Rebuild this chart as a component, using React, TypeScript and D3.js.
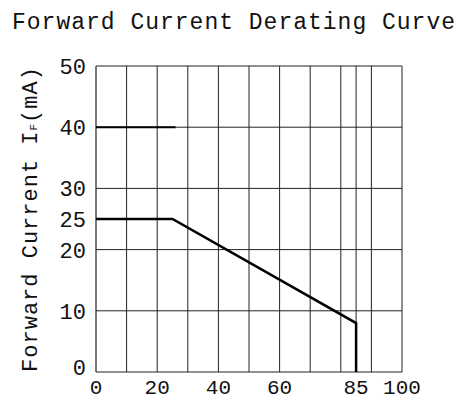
import React from "react";
import * as d3 from "d3";

const xGrid = [10, 20, 30, 40, 50, 60, 70, 80, 85, 90, 100];
const yGrid = [10, 20, 30, 40, 50];
const xTickLabels = [0, 20, 40, 60, 85, 100];
const yTickLabels = [0, 10, 20, 25, 30, 40, 50];
const curveX = [0, 25, 85, 85];
const curveY = [25, 25, 8, 0];
const peakX = [0, 26];
const peakY = [40, 40];

const W = 459;
const H = 399;
const FONT = "'Liberation Mono', 'DejaVu Sans Mono', monospace";

export default function App() {
  const x = d3.scaleLinear().domain([0, 100]).range([96, 402]);
  const y = d3.scaleLinear().domain([0, 50]).range([372, 66]);
  const line = d3
    .line<number>()
    .x((_, i) => x(curveX[i]))
    .y((d) => y(d));
  const peakLine = d3
    .line<number>()
    .x((_, i) => x(peakX[i]))
    .y((d) => y(d));

  return (
    <svg
      width={W}
      height={H}
      style={{ position: "absolute", left: 0, top: 0, background: "#fff" }}
    >
      <rect x={0} y={0} width={W} height={H} fill="#fff" />
      <text
        x={12}
        y={29}
        fontFamily={FONT}
        fontSize={23}
        textLength={443}
        lengthAdjust="spacing"
        fill="#111"
      >
        Forward Current Derating Curve
      </text>

      {/* grid */}
      {xGrid.map((v) => (
        <line
          key={"vx" + v}
          x1={x(v)}
          x2={x(v)}
          y1={y(0)}
          y2={y(50)}
          stroke="#222"
          strokeWidth={1}
        />
      ))}
      {yGrid.map((v) => (
        <line
          key={"hy" + v}
          x1={x(0)}
          x2={x(100)}
          y1={y(v)}
          y2={y(v)}
          stroke="#222"
          strokeWidth={1}
        />
      ))}
      <line x1={x(0)} x2={x(0)} y1={y(0)} y2={y(50)} stroke="#222" strokeWidth={1.2} />
      <line x1={x(0)} x2={x(100)} y1={y(0)} y2={y(0)} stroke="#222" strokeWidth={1.2} />

      <path d={peakLine(peakY) || ""} fill="none" stroke="#000" strokeWidth={2} />
      <path d={line(curveY) || ""} fill="none" stroke="#000" strokeWidth={2.5} />

      {/* y tick labels */}
      {yTickLabels.map((v) => (
        <text
          key={"yl" + v}
          x={86}
          y={y(v) + 8 - (v === 0 ? 5 : 0)}
          textAnchor="end"
          fontFamily={FONT}
          fontSize={22}
          fill="#111"
        >
          {v}
        </text>
      ))}
      {/* x tick labels */}
      {xTickLabels.map((v) => (
        <text
          key={"xl" + v}
          x={x(v)}
          y={394}
          textAnchor="middle"
          fontFamily={FONT}
          fontSize={21}
          fill="#111"
        >
          {v}
        </text>
      ))}

      {/* y axis title */}
      <text
        transform={`translate(37,${(66 + 372) / 2}) rotate(-90)`}
        textAnchor="middle"
        fontFamily={FONT}
        fontSize={22}
        fill="#111"
        letterSpacing={1}
      >
        Forward Current I
        <tspan fontSize={11} dy={0}>F</tspan>
        <tspan fontSize={22}>(mA)</tspan>
      </text>
    </svg>
  );
}
